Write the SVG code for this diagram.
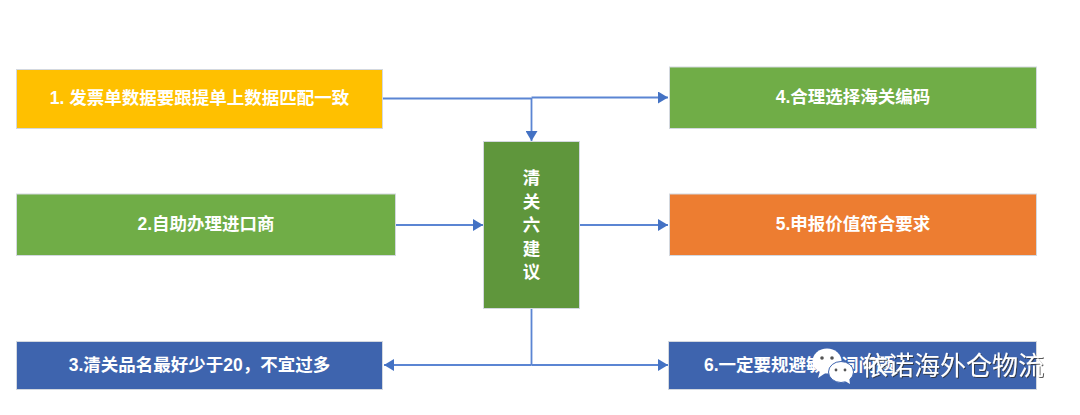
<svg xmlns="http://www.w3.org/2000/svg" width="1080" height="415" viewBox="0 0 1080 415">
<defs>
<style>
.n{stroke:#d3d8df;stroke-width:1}
.t{font-family:"Liberation Sans","Noto Sans CJK SC",sans-serif;font-size:17.500px;font-weight:bold;fill:#fff;text-anchor:middle}
.c{fill:none;stroke:#5b85d3;stroke-width:1.8}
.wm{font-family:"Noto Sans CJK SC",sans-serif;font-size:26px;fill:#fff;filter:url(#s)}
</style>
<filter id="s" x="-5%" y="-20%" width="110%" height="140%"><feDropShadow dx="1" dy="1" stdDeviation=".6" flood-color="#333" flood-opacity=".8"/></filter>
<marker id="a" markerUnits="userSpaceOnUse" markerWidth="11" markerHeight="12" refX="10" refY="6" orient="auto"><path d="M0 0L10 6L0 12Z" fill="#4472c4"/></marker>
</defs>
<rect width="1080" height="415" fill="#fff"/>
<g id="connectors">
<path class="c" d="M383 98.500H531.500"/>
<path class="c" d="M531.500 97.500H668" marker-end="url(#a)"/>
<path class="c" d="M531.500 98V141" marker-end="url(#a)"/>
<path class="c" d="M395 225H483" marker-end="url(#a)"/>
<path class="c" d="M580 225H668" marker-end="url(#a)"/>
<path class="c" d="M531.500 308V365"/>
<path class="c" d="M531.500 365H384" marker-end="url(#a)"/>
<path class="c" d="M531.500 365H668" marker-end="url(#a)"/>
</g>
<g id="node1"><rect class="n" x="16.500" y="69.500" width="366" height="59" fill="#ffc000"/><text class="t" x="199.500" y="104">1. 发票单数据要跟提单上数据匹配一致</text></g>
<g id="node2"><rect class="n" x="16.500" y="194" width="379" height="61.500" fill="#70ad47"/><text class="t" x="206" y="230">2.自助办理进口商</text></g>
<g id="node3"><rect class="n" x="16.500" y="341.500" width="366" height="48" fill="#3e64ae"/><text class="t" x="199.500" y="371">3.清关品名最好少于20，不宜过多</text></g>
<g id="node4"><rect class="n" x="669.500" y="67" width="367" height="61.500" fill="#70ad47"/><text class="t" x="853" y="103">4.合理选择海关编码</text></g>
<g id="node5"><rect class="n" x="669.500" y="194" width="367" height="61.500" fill="#ed7d31"/><text class="t" x="853" y="230">5.申报价值符合要求</text></g>
<g id="node6"><rect class="n" x="668.500" y="341.500" width="368" height="48" fill="#3e64ae"/><text class="t" style="text-anchor:start" x="704" y="371">6.一定要规避敏感词问题</text></g>
<g id="center"><rect class="n" x="483.500" y="141.500" width="96" height="167" fill="#5f963c"/>
<text class="t" x="531.500" y="184">清</text><text class="t" x="531.500" y="207.500">关</text><text class="t" x="531.500" y="231">六</text><text class="t" x="531.500" y="254.500">建</text><text class="t" x="531.500" y="278">议</text></g>
<g id="watermark">
<ellipse cx="827" cy="361" rx="14.500" ry="12.500" fill="#fff"/>
<path d="M820 371L818 378L827 372Z" fill="#fff"/>
<circle cx="822" cy="358" r="1.800" fill="#555"/><circle cx="832" cy="358" r="1.800" fill="#555"/>
<ellipse cx="841" cy="372" rx="12.500" ry="10.500" fill="#fff" stroke="#3e64ae" stroke-width="1"/>
<path d="M845 381L850 384L849 377Z" fill="#fff"/>
<circle cx="836" cy="370" r="1.400" fill="#555"/><circle cx="845" cy="370" r="1.400" fill="#555"/>
<text class="wm" x="862" y="375">依诺海外仓物流</text>
</g>
</svg>
